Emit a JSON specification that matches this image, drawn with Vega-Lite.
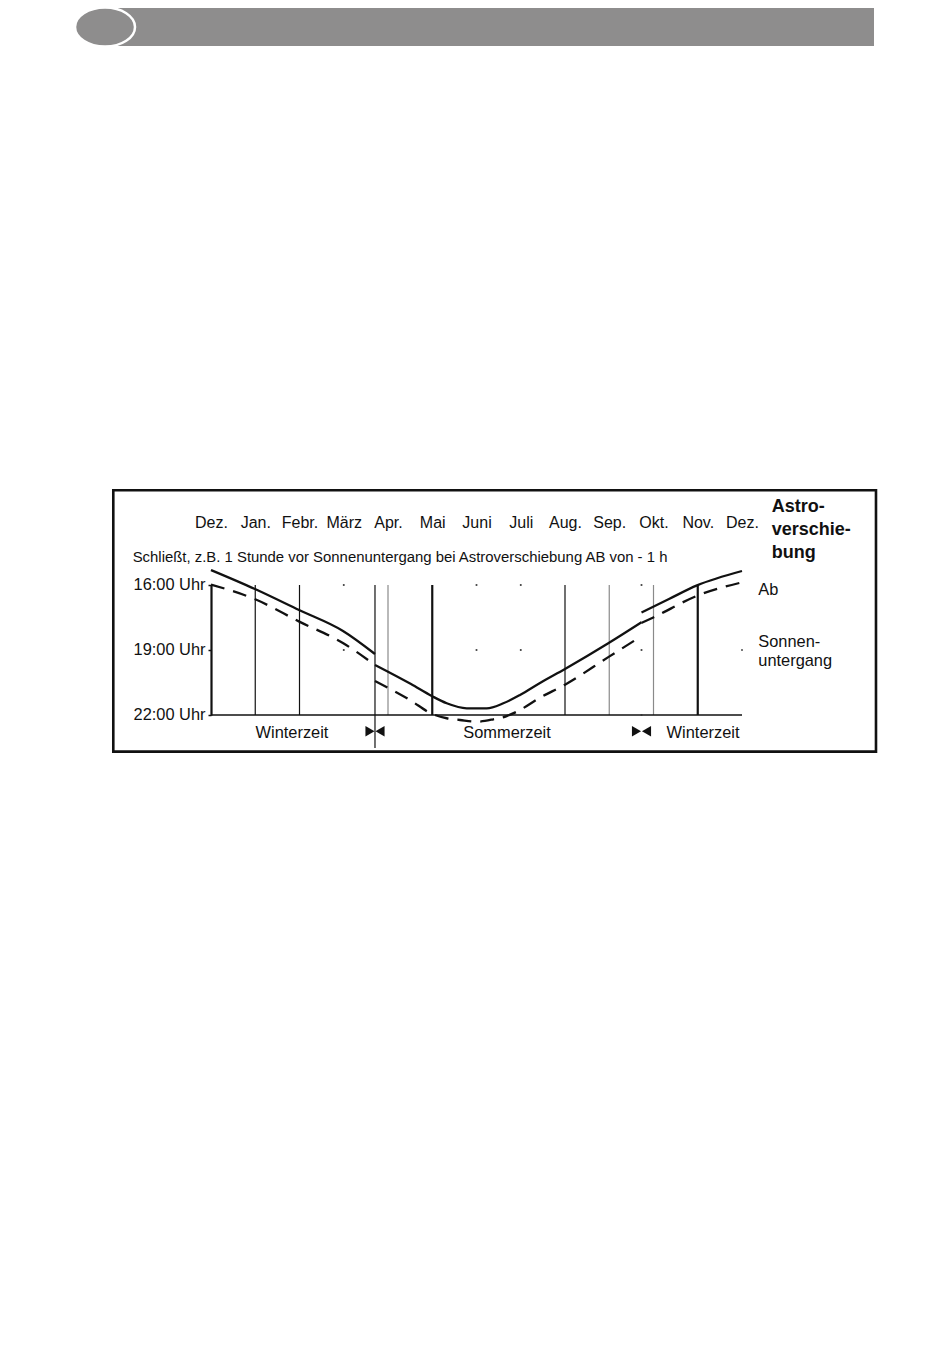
{
  "$schema": "https://vega.github.io/schema/vega-lite/v6.json",
  "autosize": "none",
  "width": 531,
  "height": 130,
  "padding": {"left": 211, "top": 585, "right": 208, "bottom": 640},
  "background": "white",
  "config": {"font": "Liberation Sans", "view": {"stroke": null}, "axis": {"title": null, "grid": false}},
  "datasets": {
    "curve": [
      {"s": "ab", "seg": 1, "m": 0, "h": 15.31},
      {"s": "ab", "seg": 1, "m": 0.994, "h": 16.185},
      {"s": "ab", "seg": 1, "m": 1.989, "h": 17.154},
      {"s": "ab", "seg": 1, "m": 2.983, "h": 18.123},
      {"s": "ab", "seg": 1, "m": 3.706, "h": 19.185},
      {"s": "ab", "seg": 2, "m": 3.706, "h": 19.692},
      {"s": "ab", "seg": 2, "m": 4.52, "h": 20.574},
      {"s": "ab", "seg": 2, "m": 4.988, "h": 21.123},
      {"s": "ab", "seg": 2, "m": 5.327, "h": 21.46},
      {"s": "ab", "seg": 2, "m": 5.778, "h": 21.69},
      {"s": "ab", "seg": 2, "m": 6.23, "h": 21.69},
      {"s": "ab", "seg": 2, "m": 6.606, "h": 21.46},
      {"s": "ab", "seg": 2, "m": 6.983, "h": 21.077},
      {"s": "ab", "seg": 2, "m": 7.435, "h": 20.523},
      {"s": "ab", "seg": 2, "m": 8.0, "h": 19.877},
      {"s": "ab", "seg": 2, "m": 8.978, "h": 18.69},
      {"s": "ab", "seg": 2, "m": 9.729, "h": 17.72},
      {"s": "ab", "seg": 3, "m": 9.729, "h": 17.27},
      {"s": "ab", "seg": 3, "m": 10.35, "h": 16.646},
      {"s": "ab", "seg": 3, "m": 10.983, "h": 16.02},
      {"s": "ab", "seg": 3, "m": 12.0, "h": 15.354},
      {"s": "su", "seg": 1, "m": 0, "h": 15.98},
      {"s": "su", "seg": 1, "m": 1.0, "h": 16.66},
      {"s": "su", "seg": 1, "m": 1.995, "h": 17.69},
      {"s": "su", "seg": 1, "m": 2.99, "h": 18.69},
      {"s": "su", "seg": 1, "m": 3.706, "h": 19.692},
      {"s": "su", "seg": 2, "m": 3.706, "h": 20.43},
      {"s": "su", "seg": 2, "m": 4.497, "h": 21.31},
      {"s": "su", "seg": 2, "m": 4.988, "h": 21.94},
      {"s": "su", "seg": 2, "m": 5.327, "h": 22.15},
      {"s": "su", "seg": 2, "m": 5.627, "h": 22.23},
      {"s": "su", "seg": 2, "m": 6.004, "h": 22.31},
      {"s": "su", "seg": 2, "m": 6.38, "h": 22.2},
      {"s": "su", "seg": 2, "m": 6.682, "h": 22.05},
      {"s": "su", "seg": 2, "m": 6.908, "h": 21.85},
      {"s": "su", "seg": 2, "m": 7.435, "h": 21.2},
      {"s": "su", "seg": 2, "m": 8.0, "h": 20.6},
      {"s": "su", "seg": 2, "m": 8.978, "h": 19.33},
      {"s": "su", "seg": 2, "m": 9.729, "h": 18.36},
      {"s": "su", "seg": 3, "m": 9.729, "h": 17.75},
      {"s": "su", "seg": 3, "m": 9.995, "h": 17.5},
      {"s": "su", "seg": 3, "m": 10.98, "h": 16.5},
      {"s": "su", "seg": 3, "m": 11.993, "h": 15.88}
    ],
    "grid": [
      {"m": 1, "kind": "thin", "lo": 16, "hi": 22},
      {"m": 2, "kind": "thin", "lo": 16, "hi": 22},
      {"m": 8, "kind": "thin", "lo": 16, "hi": 22},
      {"m": 3.706, "kind": "thin", "lo": 16, "hi": 23.52},
      {"m": 4, "kind": "gray", "lo": 16, "hi": 22},
      {"m": 9, "kind": "gray", "lo": 16, "hi": 22},
      {"m": 10, "kind": "gray", "lo": 16, "hi": 22},
      {"m": 5, "kind": "thick", "lo": 16, "hi": 22},
      {"m": 11, "kind": "thick", "lo": 16, "hi": 22}
    ],
    "baseline": [
      {"m": 0, "m2": 12, "h": 22}
    ],
    "dst": [
      {"m": 3.706, "h": 22.75},
      {"m": 9.729, "h": 22.75}
    ],
    "dots": [
      {"m": 3, "h": 16}, {"m": 3, "h": 19},
      {"m": 6, "h": 16}, {"m": 6, "h": 19},
      {"m": 7, "h": 16}, {"m": 7, "h": 19},
      {"m": 9.729, "h": 16}, {"m": 9.729, "h": 19}, {"m": 9.729, "h": 22},
      {"m": 12, "h": 19}
    ],
    "labels": [
      {"t": "Winterzeit", "grp": "bottom", "m": 1.83, "h": 23.07},
      {"t": "Sommerzeit", "grp": "bottom", "m": 6.69, "h": 23.07},
      {"t": "Winterzeit", "grp": "bottom", "m": 11.12, "h": 23.07},
      {"t": "Ab", "grp": "side", "m": 12.368, "h": 16.46},
      {"t": "Sonnen-", "grp": "side", "m": 12.368, "h": 18.86},
      {"t": "untergang", "grp": "side", "m": 12.368, "h": 19.74},
      {"t": "Astro-", "grp": "bold", "m": 12.67, "h": 12.631},
      {"t": "verschie-", "grp": "bold", "m": 12.67, "h": 13.692},
      {"t": "bung", "grp": "bold", "m": 12.67, "h": 14.754},
      {"t": "Schließt, z.B. 1 Stunde vor Sonnenuntergang bei Astroverschiebung AB von - 1 h", "grp": "sub", "m": -1.77, "h": 14.925}
    ],
    "frame": [
      {"m": -2.208, "m2": 15.028, "h": 11.629, "h2": 23.689}
    ],
    "header": [
      {"m": -2.395, "m2": 14.983, "h": -10.63, "h2": -8.877}
    ],
    "badge": [
      {"m": -2.395, "h": -9.754}
    ]
  },
  "layer": [
    {
      "data": {"name": "header"},
      "mark": {"type": "rect", "fill": "#8e8d8d"},
      "encoding": {
        "x": {"field": "m", "type": "quantitative", "scale": {"domain": [0, 12], "nice": false, "zero": false}},
        "x2": {"field": "m2"},
        "y": {"field": "h", "type": "quantitative", "scale": {"domain": [16, 22], "nice": false, "zero": false, "reverse": true}},
        "y2": {"field": "h2"}
      }
    },
    {
      "data": {"name": "badge"},
      "mark": {"type": "point", "filled": true, "fill": "#8e8d8d", "stroke": "white", "strokeWidth": 2.5, "opacity": 1, "size": 3600, "shape": "M-1,0A1,0.65,0,1,1,1,0A1,0.65,0,1,1,-1,0Z"},
      "encoding": {
        "x": {"field": "m", "type": "quantitative"},
        "y": {"field": "h", "type": "quantitative"}
      }
    },
    {
      "data": {"name": "frame"},
      "mark": {"type": "rect", "fill": "transparent", "fillOpacity": 0, "stroke": "#111111", "strokeWidth": 2.6},
      "encoding": {
        "x": {"field": "m", "type": "quantitative"},
        "x2": {"field": "m2"},
        "y": {"field": "h", "type": "quantitative"},
        "y2": {"field": "h2"}
      }
    },
    {
      "data": {"name": "grid"},
      "transform": [{"filter": "datum.kind === 'thin'"}],
      "mark": {"type": "rule", "stroke": "#111111", "strokeWidth": 1.2},
      "encoding": {
        "x": {"field": "m", "type": "quantitative"},
        "y": {"field": "lo", "type": "quantitative"},
        "y2": {"field": "hi"}
      }
    },
    {
      "data": {"name": "grid"},
      "transform": [{"filter": "datum.kind === 'gray'"}],
      "mark": {"type": "rule", "stroke": "#8a8a8a", "strokeWidth": 1.2},
      "encoding": {
        "x": {"field": "m", "type": "quantitative"},
        "y": {"field": "lo", "type": "quantitative"},
        "y2": {"field": "hi"}
      }
    },
    {
      "data": {"name": "grid"},
      "transform": [{"filter": "datum.kind === 'thick'"}],
      "mark": {"type": "rule", "stroke": "#111111", "strokeWidth": 2.2},
      "encoding": {
        "x": {"field": "m", "type": "quantitative"},
        "y": {"field": "lo", "type": "quantitative"},
        "y2": {"field": "hi"}
      }
    },
    {
      "data": {"name": "baseline"},
      "mark": {"type": "rule", "stroke": "#111111", "strokeWidth": 1.6},
      "encoding": {
        "x": {"field": "m", "type": "quantitative"},
        "x2": {"field": "m2"},
        "y": {"field": "h", "type": "quantitative"}
      }
    },
    {
      "data": {"name": "dots"},
      "mark": {"type": "point", "shape": "square", "filled": true, "color": "#333333", "size": 3, "opacity": 1},
      "encoding": {
        "x": {"field": "m", "type": "quantitative"},
        "y": {"field": "h", "type": "quantitative"}
      }
    },
    {
      "data": {"name": "curve"},
      "transform": [{"filter": "datum.s === 'ab'"}],
      "mark": {"type": "line", "stroke": "#111111", "strokeWidth": 2.3, "interpolate": "monotone"},
      "encoding": {
        "x": {"field": "m", "type": "quantitative",
          "axis": {"orient": "top", "values": [0,1,2,3,4,5,6,7,8,9,10,11,12],
            "labelExpr": "['Dez.','Jan.','Febr.','März','Apr.','Mai','Juni','Juli','Aug.','Sep.','Okt.','Nov.','Dez.'][datum.value]",
            "domain": false, "ticks": false, "grid": false, "title": null, "labelAngle": 0, "zindex": 5,
            "labelPadding": 58, "labelBaseline": "alphabetic", "labelFontSize": 16, "labelColor": "#111111",
            "labelFlush": false, "labelOverlap": false}},
        "y": {"field": "h", "type": "quantitative",
          "axis": {"orient": "left", "values": [16, 19, 22], "labelExpr": "datum.value + ':00 Uhr'", "zindex": 5,
            "domain": true, "domainColor": "#111111", "domainWidth": 2.2, "ticks": true, "tickSize": 3, "tickColor": "#111111", "tickWidth": 1.5,
            "labelPadding": 3, "labelBaseline": "alphabetic", "labelOffset": 4, "labelFontSize": 16.4, "labelColor": "#111111",
            "grid": false, "title": null, "labelFlush": false, "labelOverlap": false}},
        "detail": {"field": "seg", "type": "nominal"}
      }
    },
    {
      "data": {"name": "curve"},
      "transform": [{"filter": "datum.s === 'su'"}],
      "mark": {"type": "line", "stroke": "#111111", "strokeWidth": 2.3, "strokeDash": [14, 9], "interpolate": "monotone"},
      "encoding": {
        "x": {"field": "m", "type": "quantitative"},
        "y": {"field": "h", "type": "quantitative"},
        "detail": {"field": "seg", "type": "nominal"}
      }
    },
    {
      "data": {"name": "dst"},
      "mark": {"type": "point", "shape": "triangle-right", "filled": true, "color": "#111111", "size": 110, "opacity": 1, "xOffset": -5},
      "encoding": {
        "x": {"field": "m", "type": "quantitative"},
        "y": {"field": "h", "type": "quantitative"}
      }
    },
    {
      "data": {"name": "dst"},
      "mark": {"type": "point", "shape": "triangle-left", "filled": true, "color": "#111111", "size": 110, "opacity": 1, "xOffset": 5},
      "encoding": {
        "x": {"field": "m", "type": "quantitative"},
        "y": {"field": "h", "type": "quantitative"}
      }
    },
    {
      "data": {"name": "labels"},
      "transform": [{"filter": "datum.grp === 'bottom'"}],
      "mark": {"type": "text", "align": "center", "baseline": "alphabetic", "fontSize": 16.4, "color": "#111111"},
      "encoding": {
        "x": {"field": "m", "type": "quantitative"},
        "y": {"field": "h", "type": "quantitative"},
        "text": {"field": "t"}
      }
    },
    {
      "data": {"name": "labels"},
      "transform": [{"filter": "datum.grp === 'side'"}],
      "mark": {"type": "text", "align": "left", "baseline": "alphabetic", "fontSize": 16.4, "color": "#111111"},
      "encoding": {
        "x": {"field": "m", "type": "quantitative"},
        "y": {"field": "h", "type": "quantitative"},
        "text": {"field": "t"}
      }
    },
    {
      "data": {"name": "labels"},
      "transform": [{"filter": "datum.grp === 'bold'"}],
      "mark": {"type": "text", "align": "left", "baseline": "alphabetic", "fontSize": 18, "fontWeight": "bold", "color": "#111111"},
      "encoding": {
        "x": {"field": "m", "type": "quantitative"},
        "y": {"field": "h", "type": "quantitative"},
        "text": {"field": "t"}
      }
    },
    {
      "data": {"name": "labels"},
      "transform": [{"filter": "datum.grp === 'sub'"}],
      "mark": {"type": "text", "align": "left", "baseline": "alphabetic", "fontSize": 14.9, "color": "#111111"},
      "encoding": {
        "x": {"field": "m", "type": "quantitative"},
        "y": {"field": "h", "type": "quantitative"},
        "text": {"field": "t"}
      }
    }
  ]
}
